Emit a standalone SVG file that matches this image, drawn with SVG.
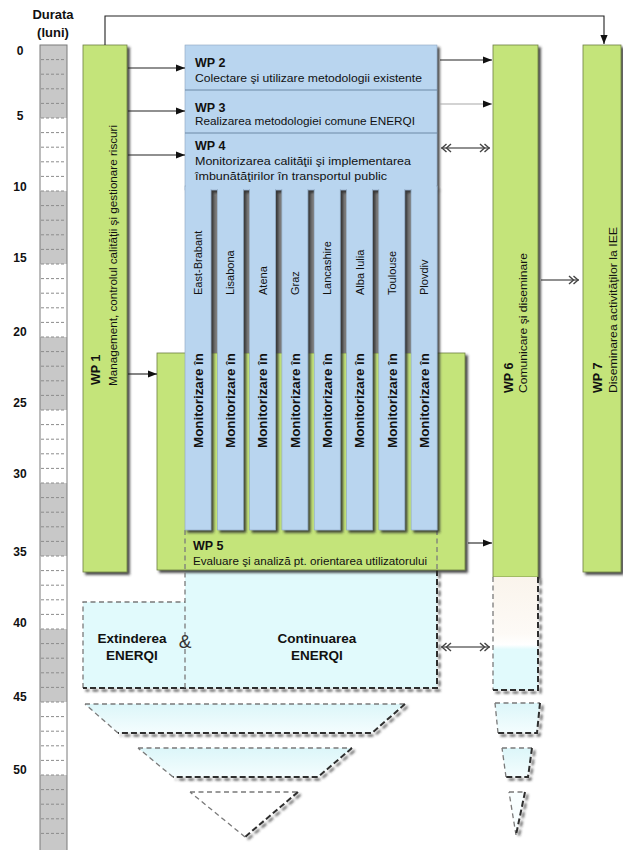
<svg xmlns="http://www.w3.org/2000/svg" width="623" height="850" viewBox="0 0 623 850">
<defs>
<style>
.t{font-family:"Liberation Sans",Arial,sans-serif;fill:#111}
.wp{font-size:12.5px;font-weight:bold}
.d{font-size:11.5px}
.city{font-size:11px}
.mon{font-size:13px;font-weight:bold}
.num{font-size:12px;font-weight:bold}
.big{font-size:13.5px;font-weight:bold}
.green{fill:#c4e47a;stroke:#6e7f45;stroke-width:0.8}
.blue{fill:#b9d5ef;stroke:#8ca6bf;stroke-width:0.6}
.cyan{fill:#e1fafc}
.gap{fill:#7e7e7e}
.dl{fill:none;stroke:#7a7a7a;stroke-width:1.3;stroke-dasharray:5 3.5}
.dk{fill:none;stroke:#2e2e2e;stroke-width:2;stroke-dasharray:6 3}
.ar{fill:none;stroke:#222;stroke-width:1.1}
</style>
<filter id="sh" filterUnits="userSpaceOnUse" x="0" y="0" width="623" height="850">
<feDropShadow dx="2.5" dy="2.5" stdDeviation="0.9" flood-color="#2a2a2a" flood-opacity="0.85"/>
</filter>
<marker id="ah" viewBox="0 0 10 8" refX="10" refY="4" markerWidth="9" markerHeight="8" markerUnits="userSpaceOnUse" orient="auto">
<path d="M0,0L10,4L0,8z" fill="#111"/>
</marker>
<marker id="dc" viewBox="0 0 12 10" refX="11.5" refY="5" markerWidth="12" markerHeight="10" markerUnits="userSpaceOnUse" orient="auto-start-reverse">
<path d="M1.5,1L6,5L1.5,9M6,1L10.5,5L6,9" fill="none" stroke="#444" stroke-width="1.4"/>
</marker>
<linearGradient id="gT" x1="0" y1="0" x2="0" y2="1">
<stop offset="0" stop-color="#dcf6f9"/>
<stop offset="1" stop-color="#f4fdfe"/>
</linearGradient>
<linearGradient id="g6" x1="0" y1="0" x2="0" y2="1">
<stop offset="0" stop-color="#faf4ec"/>
<stop offset="0.5" stop-color="#fdfaf6"/>
<stop offset="0.6" stop-color="#ffffff"/>
<stop offset="0.64" stop-color="#e1fafc"/>
<stop offset="1" stop-color="#e1fafc"/>
</linearGradient>
</defs>
<rect width="623" height="850" fill="#fff"/>

<g id="timeline">
<text class="t num" x="53" y="19" text-anchor="middle" style="font-size:13px">Durata</text>
<text class="t num" x="53" y="37" text-anchor="middle" style="font-size:13px">(luni)</text>
<rect x="40" y="45" width="27" height="810" fill="#fff"/>
<g fill="#c8c8c8">
<rect x="40" y="45" width="27" height="73"/>
<rect x="40" y="191" width="27" height="73"/>
<rect x="40" y="337" width="27" height="73"/>
<rect x="40" y="483" width="27" height="73"/>
<rect x="40" y="629" width="27" height="73"/>
<rect x="40" y="775" width="27" height="80"/>
</g>
<path fill="none" stroke="#8c8c8c" stroke-width="1" stroke-dasharray="3 2" d="M41 59.6H66M41 74.2H66M41 88.8H66M41 103.4H66M41 118H66M41 132.6H66M41 147.2H66M41 161.8H66M41 176.4H66M41 191H66M41 205.6H66M41 220.2H66M41 234.8H66M41 249.4H66M41 264H66M41 278.6H66M41 293.2H66M41 307.8H66M41 322.4H66M41 337H66M41 351.6H66M41 366.2H66M41 380.8H66M41 395.4H66M41 410H66M41 424.6H66M41 439.2H66M41 453.8H66M41 468.4H66M41 483H66M41 497.6H66M41 512.2H66M41 526.8H66M41 541.4H66M41 556H66M41 570.6H66M41 585.2H66M41 599.8H66M41 614.4H66M41 629H66M41 643.6H66M41 658.2H66M41 672.8H66M41 687.4H66M41 702H66M41 716.6H66M41 731.2H66M41 745.8H66M41 760.4H66M41 775H66M41 789.6H66M41 804.2H66M41 818.8H66M41 833.4H66"/>
<rect x="40" y="45" width="27" height="810" fill="none" stroke="#7a7a7a" stroke-width="1"/>
<g class="t num" text-anchor="middle">
<text x="20" y="55">0</text>
<text x="20" y="120">5</text>
<text x="20" y="191">10</text>
<text x="20" y="262">15</text>
<text x="20" y="336">20</text>
<text x="20" y="407">25</text>
<text x="20" y="478">30</text>
<text x="20" y="556">35</text>
<text x="20" y="627">40</text>
<text x="20" y="701">45</text>
<text x="20" y="774">50</text>
</g>
</g>

<g id="extindere-continuare">
<rect class="cyan" x="185" y="570" width="252" height="118"/>
<rect class="cyan" x="83" y="602" width="102" height="86"/>
<path class="dl" d="M83,688V602H185"/>
<path class="dk" filter="url(#sh)" d="M437,570V688H83"/>
<text class="t big" x="132" y="643" text-anchor="middle">Extinderea</text>
<text class="t big" x="132" y="660" text-anchor="middle">ENERQI</text>
<text class="t big" x="317" y="643" text-anchor="middle">Continuarea</text>
<text class="t big" x="317" y="660" text-anchor="middle">ENERQI</text>
</g>

<g id="taper-1">
<polygon points="85,704 405,704 372,733 118,733" fill="url(#gT)"/>
<path class="dl" d="M85,704H405M118,733L85,704"/>
<path class="dk" filter="url(#sh)" d="M405,704L372,733H118"/>
</g>
<g id="taper-2">
<polygon points="138,748 352,748 318,777 173,777" fill="url(#gT)"/>
<path class="dl" d="M138,748H352M173,777L138,748"/>
<path class="dk" filter="url(#sh)" d="M352,748L318,777H173"/>
</g>
<g id="taper-3">
<polygon points="190,792 298,792 245,837" fill="#fff"/>
<path class="dl" d="M190,792H298M245,837L190,792"/>
<path class="dk" filter="url(#sh)" d="M298,792L245,837"/>
</g>

<g id="wp5">
<rect class="green" x="157" y="353" width="308" height="217" filter="url(#sh)"/>
<text class="t wp" x="193" y="550">WP 5</text>
<text class="t d" x="193" y="565" textLength="234" lengthAdjust="spacingAndGlyphs">Evaluare şi analiză pt. orientarea utilizatorului</text>
</g>
<path class="dl" d="M185,530V688M437,530V570"/>
<text class="t" x="185" y="648" text-anchor="middle" style="font-size:19px;fill:#333">&amp;</text>

<g id="gaps">
<rect class="gap" x="211" y="188" width="6.3" height="165"/>
<rect class="gap" x="243.3" y="188" width="6.3" height="165"/>
<rect class="gap" x="275.6" y="188" width="6.3" height="165"/>
<rect class="gap" x="307.9" y="188" width="6.3" height="165"/>
<rect class="gap" x="340.2" y="188" width="6.3" height="165"/>
<rect class="gap" x="372.5" y="188" width="6.3" height="165"/>
<rect class="gap" x="404.8" y="188" width="6.3" height="165"/>
</g>

<g id="wp2-4">
<g filter="url(#sh)">
<rect class="blue" x="185" y="45" width="252" height="145"/>
<rect class="blue" x="185" y="186" width="26" height="344"/>
<rect class="blue" x="217.3" y="186" width="26" height="344"/>
<rect class="blue" x="249.6" y="186" width="26" height="344"/>
<rect class="blue" x="281.9" y="186" width="26" height="344"/>
<rect class="blue" x="314.2" y="186" width="26" height="344"/>
<rect class="blue" x="346.5" y="186" width="26" height="344"/>
<rect class="blue" x="378.8" y="186" width="26" height="344"/>
<rect class="blue" x="411.1" y="186" width="26" height="344"/>
</g>
<rect x="186" y="46" width="250" height="143" fill="#b9d5ef"/>
<path d="M185,90H437M185,133H437" stroke="#6d89a6" stroke-width="1" fill="none"/>
<g id="wp2">
<text class="t wp" x="195" y="67">WP 2</text>
<text class="t d" x="195" y="82" textLength="227" lengthAdjust="spacingAndGlyphs">Colectare şi utilizare metodologii existente</text>
</g>
<g id="wp3">
<text class="t wp" x="195" y="112">WP 3</text>
<text class="t d" x="195" y="125" textLength="220" lengthAdjust="spacingAndGlyphs">Realizarea metodologiei comune ENERQI</text>
</g>
<g id="wp4">
<text class="t wp" x="195" y="150">WP 4</text>
<text class="t d" x="195" y="165" textLength="216" lengthAdjust="spacingAndGlyphs">Monitorizarea calităţii şi implementarea</text>
<text class="t d" x="195" y="180" textLength="192" lengthAdjust="spacingAndGlyphs">îmbunătăţirilor în transportul public</text>
</g>
<g class="t city">
<text transform="translate(202,295) rotate(-90)">East-Brabant</text>
<text transform="translate(234.3,295) rotate(-90)">Lisabona</text>
<text transform="translate(266.6,295) rotate(-90)">Atena</text>
<text transform="translate(298.9,295) rotate(-90)">Graz</text>
<text transform="translate(331.2,295) rotate(-90)">Lancashire</text>
<text transform="translate(363.5,295) rotate(-90)">Alba Iulia</text>
<text transform="translate(395.8,295) rotate(-90)">Toulouse</text>
<text transform="translate(428.1,295) rotate(-90)">Plovdiv</text>
</g>
<g class="t mon">
<text transform="translate(202.7,448) rotate(-90)" textLength="95" lengthAdjust="spacingAndGlyphs">Monitorizare în</text>
<text transform="translate(235,448) rotate(-90)" textLength="95" lengthAdjust="spacingAndGlyphs">Monitorizare în</text>
<text transform="translate(267.3,448) rotate(-90)" textLength="95" lengthAdjust="spacingAndGlyphs">Monitorizare în</text>
<text transform="translate(299.6,448) rotate(-90)" textLength="95" lengthAdjust="spacingAndGlyphs">Monitorizare în</text>
<text transform="translate(331.9,448) rotate(-90)" textLength="95" lengthAdjust="spacingAndGlyphs">Monitorizare în</text>
<text transform="translate(364.2,448) rotate(-90)" textLength="95" lengthAdjust="spacingAndGlyphs">Monitorizare în</text>
<text transform="translate(396.5,448) rotate(-90)" textLength="95" lengthAdjust="spacingAndGlyphs">Monitorizare în</text>
<text transform="translate(428.8,448) rotate(-90)" textLength="95" lengthAdjust="spacingAndGlyphs">Monitorizare în</text>
</g>
</g>

<g id="wp1">
<rect class="green" x="83" y="45" width="44" height="527" filter="url(#sh)"/>
<text class="t wp" transform="translate(100,385) rotate(-90)">WP 1</text>
<text class="t d" transform="translate(117,386) rotate(-90)" textLength="261" lengthAdjust="spacingAndGlyphs">Management, controlul calităţii şi gestionare riscuri</text>
</g>

<g id="wp6">
<rect class="green" x="493" y="45" width="45" height="532" filter="url(#sh)"/>
<rect x="493" y="577" width="45" height="113" fill="url(#g6)"/>
<path class="dl" d="M493,577V690"/>
<path class="dk" filter="url(#sh)" d="M538,577V690H493"/>
<text class="t wp" transform="translate(513,393) rotate(-90)">WP 6</text>
<text class="t d" transform="translate(527,393) rotate(-90)" textLength="140" lengthAdjust="spacingAndGlyphs">Comunicare şi diseminare</text>
</g>
<g id="wp6-taper-1">
<polygon points="495,703 540,703 537,733 498,733" fill="url(#gT)"/>
<path class="dl" d="M495,703H540M498,733L495,703"/>
<path class="dk" filter="url(#sh)" d="M540,703L537,733H498"/>
</g>
<g id="wp6-taper-2">
<polygon points="502,748 532,748 528,777 506,777" fill="url(#gT)"/>
<path class="dl" d="M502,748H532M506,777L502,748"/>
<path class="dk" filter="url(#sh)" d="M532,748L528,777H506"/>
</g>
<g id="wp6-taper-3">
<polygon points="509,792 525,792 516,835" fill="#f8feff"/>
<path class="dl" d="M509,792H525M516,835L509,792"/>
<path class="dk" filter="url(#sh)" d="M525,792L516,835"/>
</g>

<g id="wp7">
<rect class="green" x="583" y="45" width="38" height="527" filter="url(#sh)"/>
<text class="t wp" transform="translate(602,393) rotate(-90)">WP 7</text>
<text class="t d" transform="translate(617,393) rotate(-90)" textLength="166" lengthAdjust="spacingAndGlyphs">Diseminarea activităţilor la IEE</text>
</g>

<g id="connectors">
<path class="ar" d="M105,45V16H604V44" marker-end="url(#ah)"/>
<path class="ar" d="M128,68H185" marker-end="url(#ah)"/>
<path class="ar" d="M128,111H185" marker-end="url(#ah)"/>
<path class="ar" d="M128,155H185" marker-end="url(#ah)"/>
<path class="ar" d="M128,374H157" marker-end="url(#ah)"/>
<path class="ar" d="M440,60H492" marker-end="url(#ah)"/>
<path d="M440,104H492" fill="none" stroke="#a8a8a8" stroke-width="1.1" marker-end="url(#ah)"/>
<path class="ar" d="M441,148H490" marker-start="url(#dc)" marker-end="url(#dc)"/>
<path class="ar" d="M468,543H492" marker-end="url(#ah)"/>
<path class="ar" d="M541,280H579" marker-end="url(#dc)"/>
<path class="ar" d="M441,647H490" marker-start="url(#dc)" marker-end="url(#dc)"/>
</g>
</svg>
